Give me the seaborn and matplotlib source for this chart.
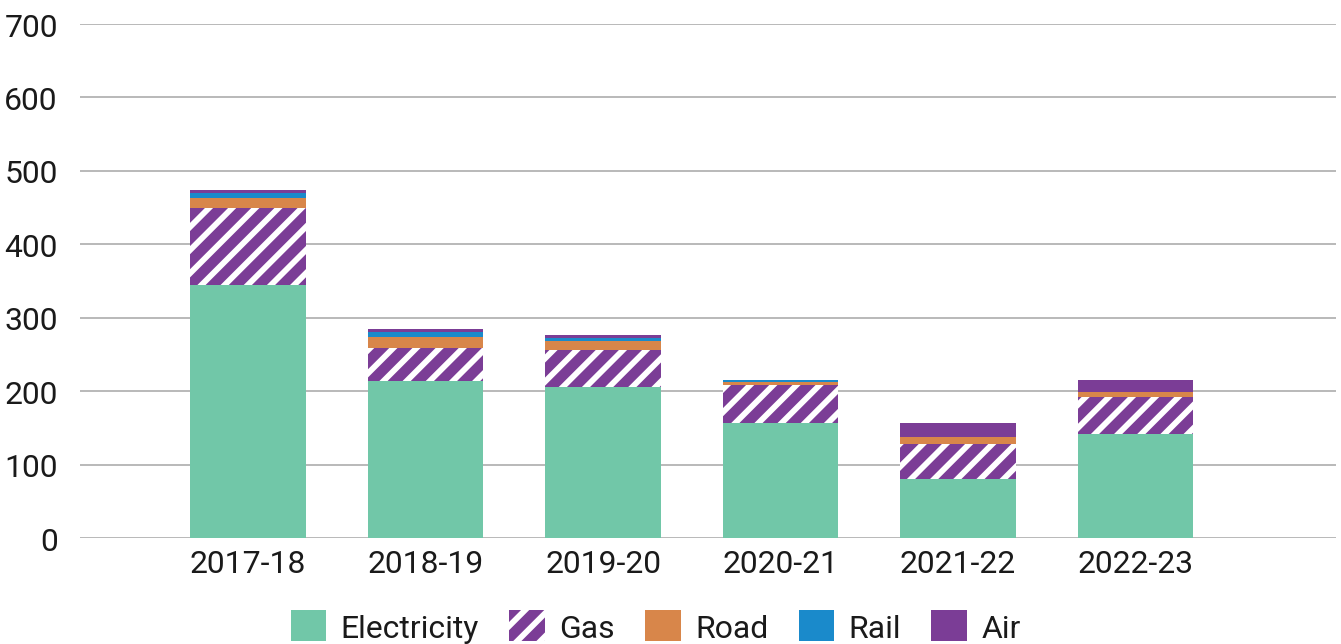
import numpy as np
import seaborn as sns
import pandas as pd
import matplotlib.pyplot as plt
from matplotlib.patches import Patch

# values
years = ['2017-18', '2018-19', '2019-20', '2020-21', '2021-22', '2022-23']
electricity = [345, 214, 206, 156, 80, 142]
gas = [104, 45, 50, 53, 48.5, 50]
road = [14, 15, 12, 3.5, 9, 7]
rail = [7, 6.5, 4, 2.5, 0, 0]
air = [4, 4, 4.5, 0.5, 19, 16]

series = ['Electricity', 'Gas', 'Road', 'Rail', 'Air']
colors = ['#71C7A8', '#7B3D96', '#D8864A', '#1A8ACB', '#7B3D96']

sns.set_style('white')
plt.rcParams['font.family'] = ['Roboto', 'DejaVu Sans']
plt.rcParams['hatch.color'] = 'white'
plt.rcParams['hatch.linewidth'] = 3.0

dpi = 139
fig = plt.figure(figsize=(1341 / dpi, 645 / dpi), dpi=dpi)
ax = fig.add_axes([0.0597, 0.1643, 0.9366, 0.7969])

df = pd.DataFrame({'year': years, 'Electricity': electricity, 'Gas': gas,
                   'Road': road, 'Rail': rail, 'Air': air})

bottom = np.zeros(len(years))
for name, col in zip(series, colors):
    hatch = '//' if name == 'Gas' else None
    sns.barplot(data=df, x='year', y=name, bottom=bottom, color=col,
                saturation=1, width=0.65, errorbar=None, hatch=hatch,
                edgecolor='white' if hatch else col, linewidth=0, ax=ax)
    bottom = bottom + df[name].values

ax.set_xlim(-0.947, 6.13)
ax.set_ylim(0, 700)
ax.set_yticks(range(0, 701, 100))
ax.yaxis.grid(True, color='#a6a6a6', linewidth=0.8)
ax.set_axisbelow(True)
sns.despine(ax=ax, left=True, bottom=True, top=True, right=True)
ax.tick_params(axis='y', length=0, pad=11.5, labelsize=16.5, labelcolor='#1a1a1a')
ax.tick_params(axis='x', length=0, pad=5.5, labelsize=16.5, labelcolor='#1a1a1a')
ax.set_xlabel('')
ax.set_ylabel('')

handles = [Patch(facecolor=c, edgecolor='white' if n == 'Gas' else c, linewidth=0,
                 hatch='//' if n == 'Gas' else None, label=n)
           for n, c in zip(series, colors)]
fig.legend(handles=handles, loc='center', bbox_to_anchor=(0.489, 0.027), ncol=5,
           frameon=False, fontsize=16.5, handlelength=1.11, handleheight=1.11,
           handletextpad=0.46, columnspacing=0.95, labelcolor='#1a1a1a')

fig.savefig('out.png', dpi=dpi)
